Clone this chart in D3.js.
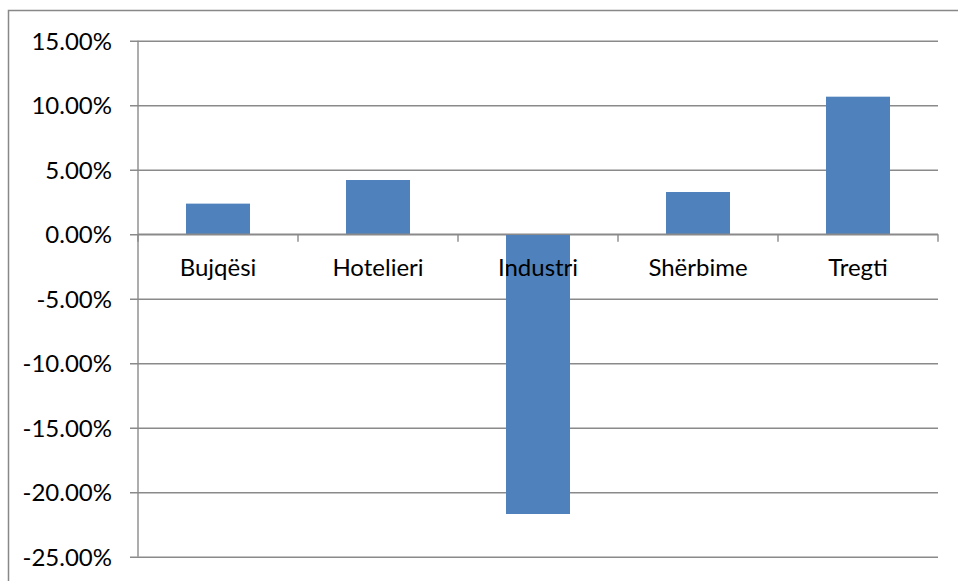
<!DOCTYPE html>
<html>
<head>
<meta charset="utf-8">
<script src="https://cdn.jsdelivr.net/npm/d3@7"></script>
<style>
  html, body { margin: 0; padding: 0; background: #fff; }
  svg { display: block; }
  text { font-family: Lato, "Open Sans", sans-serif; fill: #000; }
</style>
</head>
<body>
<svg id="chart" width="958" height="581"></svg>
<script>
// Sector growth rates (%)
const categories = ["Bujqësi", "Hotelieri", "Industri", "Shërbime", "Tregti"];
const values = [2.37, 4.20, -21.69, 3.27, 10.66];
const yTicks = [15, 10, 5, 0, -5, -10, -15, -20, -25];

const W = 958, H = 581;
const plot = { left: 138, right: 938, top: 40.7, bottom: 556.7 };
const gridColor = "#8a8a8a";
const barColor = "#4f81bd";
const fontSize = 24;

const svg = d3.select("#chart");

// outer chart frame (runs off the right and bottom edges)
svg.append("rect")
  .attr("x", 8.5).attr("y", 10.5)
  .attr("width", W + 20).attr("height", H + 20)
  .attr("fill", "#fff")
  .attr("stroke", "#888").attr("stroke-width", 1.5);

const x = d3.scaleBand()
  .domain(categories)
  .range([plot.left, plot.right])
  .paddingInner(0.6)
  .paddingOuter(0.3);

const xBand = d3.scaleBand()
  .domain(categories)
  .range([plot.left, plot.right]);

const y = d3.scaleLinear()
  .domain([-25, 15])
  .range([plot.bottom, plot.top]);

// horizontal gridlines with left tick marks; plain hyphen for negatives
const yAxis = d3.axisLeft(y)
  .tickValues(yTicks)
  .tickSize(-(plot.right - plot.left))
  .tickPadding(26)
  .tickFormat(d => d.toFixed(2) + "%");

const gy = svg.append("g")
  .attr("transform", `translate(${plot.left},0)`)
  .call(yAxis);
gy.select(".domain").remove();
gy.selectAll(".tick line")
  .attr("stroke", gridColor).attr("stroke-width", 1.4)
  .attr("x1", -8);
gy.selectAll(".tick text")
  .attr("font-size", fontSize)
  .attr("font-family", "Lato, sans-serif")
  .attr("dy", "0.36em");

// vertical value axis line
svg.append("line")
  .attr("x1", plot.left).attr("x2", plot.left)
  .attr("y1", plot.top).attr("y2", plot.bottom)
  .attr("stroke", gridColor).attr("stroke-width", 1.4);

// bars
svg.append("g")
  .selectAll("rect")
  .data(categories.map((c, i) => ({ c, v: values[i] })))
  .join("rect")
  .attr("x", d => x(d.c))
  .attr("width", x.bandwidth())
  .attr("y", d => y(Math.max(0, d.v)))
  .attr("height", d => Math.abs(y(d.v) - y(0)))
  .attr("fill", barColor);

// category axis at zero
const y0 = y(0);
svg.append("line")
  .attr("x1", plot.left).attr("x2", plot.right)
  .attr("y1", y0).attr("y2", y0)
  .attr("stroke", gridColor).attr("stroke-width", 1.4);

const boundaries = categories.map(c => xBand(c)).concat([plot.right]);
svg.append("g")
  .selectAll("line")
  .data(boundaries)
  .join("line")
  .attr("x1", d => d).attr("x2", d => d)
  .attr("y1", y0).attr("y2", y0 + 7.5)
  .attr("stroke", gridColor).attr("stroke-width", 1.4);

svg.append("g")
  .selectAll("text")
  .data(categories)
  .join("text")
  .attr("x", d => xBand(d) + xBand.bandwidth() / 2)
  .attr("y", y0 + 42)
  .attr("text-anchor", "middle")
  .attr("font-size", fontSize)
  .text(d => d);
</script>
</body>
</html>
